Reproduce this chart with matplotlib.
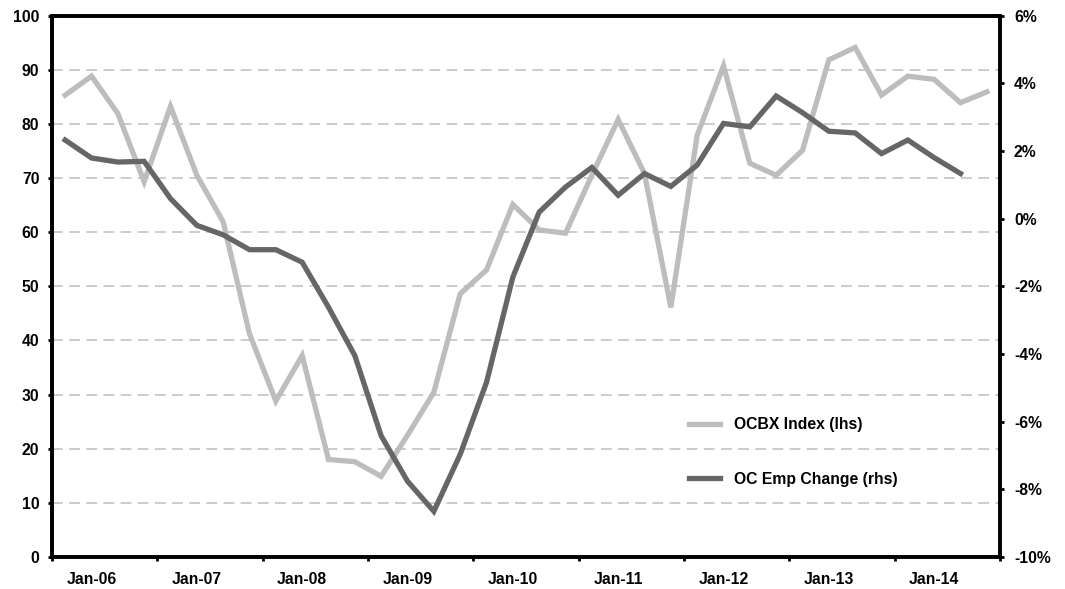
import matplotlib
matplotlib.use("Agg")
import matplotlib.pyplot as plt
import numpy as np

plt.rcParams['font.family'] = ['Liberation Sans', 'DejaVu Sans']
plt.rcParams['font.weight'] = 'bold'

# quarterly, Oct-05 .. Jul-14
ocbx_index = [85.3, 88.8, 81.9, 69.3, 83.2, 70.5, 61.9, 41.2, 28.8, 37.2,
              18.0, 17.6, 14.9, 22.5, 30.4, 48.6, 53.0, 65.1, 60.4, 59.8,
              70.5, 80.8, 70.8, 46.1, 77.9, 90.7, 72.7, 70.5, 75.1, 91.8,
              94.1, 85.3, 88.8, 88.2, 83.9, 85.9]
# % change, ends one quarter earlier (Apr-14)
oc_emp_change = [2.32, 1.79, 1.67, 1.69, 0.59, -0.20, -0.48, -0.92, -0.92, -1.29,
                 -2.62, -4.05, -6.42, -7.76, -8.65, -6.97, -4.84, -1.73, 0.19, 0.93,
                 1.51, 0.69, 1.33, 0.95, 1.58, 2.81, 2.71, 3.62, 3.13, 2.58,
                 2.53, 1.92, 2.32, 1.80, 1.33]
year_labels = ['Jan-06', 'Jan-07', 'Jan-08', 'Jan-09', 'Jan-10',
               'Jan-11', 'Jan-12', 'Jan-13', 'Jan-14']

light = '#bdbdbd'
dark = '#666666'
fs = 11.3

fig = plt.figure(figsize=(10.65, 5.89), dpi=100)
ax = fig.add_axes([52 / 1065, 1 - 557 / 589, 948 / 1065, 541.5 / 589])
ax2 = ax.twinx()

x1 = np.arange(len(ocbx_index))
x2 = np.arange(len(oc_emp_change))

ax.plot(x1, ocbx_index, color=light, lw=3.8, solid_joinstyle='miter',
        label='OCBX Index (lhs)')
ax2.plot(x2, oc_emp_change, color=dark, lw=3.8, solid_joinstyle='miter',
         label='OC Emp Change (rhs)')

ax.set_xlim(-0.5, len(ocbx_index) - 0.5)
ax.set_ylim(0, 100)
ax2.set_ylim(-10, 6)

for v in range(10, 100, 10):
    ax.axhline(v, color='#c8c8c8', lw=1.3, dashes=(6, 3.5), zorder=0)

ax.set_yticks(range(0, 101, 10))
ax2.set_yticks(range(-10, 7, 2))
ax2.set_yticklabels([f'{v}%' for v in range(-10, 7, 2)])

# tick marks between years, labels on the Jan quarters
ax.set_xticks(np.arange(-0.5, len(ocbx_index), 4))
ax.set_xticklabels([])
ax.set_xticks(np.arange(1, len(ocbx_index), 4), minor=True)
ax.set_xticklabels(year_labels, minor=True)
ax.tick_params(axis='x', which='minor', length=0, pad=10.5)
ax.tick_params(axis='x', which='major', length=3, width=2)
ax.tick_params(axis='y', length=3, width=2, pad=6)
ax2.tick_params(axis='y', length=3, width=2, pad=7)

for a in (ax, ax2):
    for s in a.spines.values():
        s.set_linewidth(2.6)
        s.set_color('black')
    for lab in a.get_xticklabels(which='both') + a.get_yticklabels():
        lab.set_fontsize(fs)
        lab.set_fontweight('bold')

ax2.set_zorder(ax.get_zorder() + 1)
ax2.patch.set_visible(False)

h1, l1 = ax.get_legend_handles_labels()
h2, l2 = ax2.get_legend_handles_labels()
ax2.legend(h1 + h2, l1 + l2, loc='upper left', bbox_to_anchor=(0.657, 0.284),
           frameon=False, handlelength=2.0, handletextpad=0.85,
           labelspacing=2.5, prop={'size': fs, 'weight': 'bold'})

fig.savefig('out.png', dpi=100)
